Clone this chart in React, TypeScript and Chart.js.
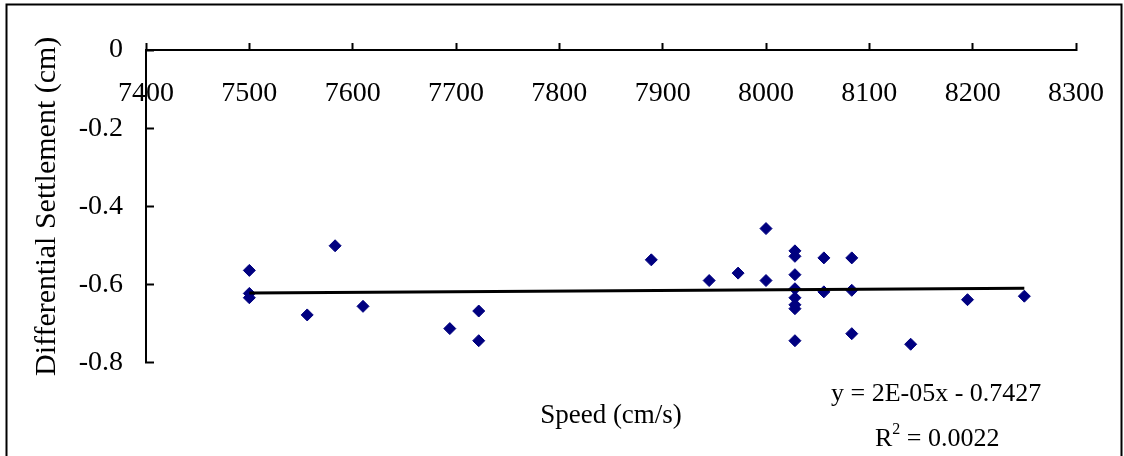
import { useEffect, useRef } from 'react';
import { Chart, registerables } from 'chart.js';

Chart.register(...registerables);

// Speed (cm/s) of each observation
const speeds = [
  7500, 7500, 7500, 7556, 7583, 7610, 7694, 7722, 7722, 7889,
  7945, 7973, 8000, 8000, 8028, 8028, 8028, 8028, 8028, 8028,
  8028, 8028, 8056, 8056, 8083, 8083, 8083, 8140, 8195, 8250,
];
// Differential settlement (cm) of each observation
const settlements = [
  -0.564, -0.623, -0.634, -0.678, -0.501, -0.656, -0.713, -0.668, -0.744, -0.537,
  -0.59, -0.571, -0.457, -0.59, -0.514, -0.528, -0.575, -0.611, -0.634, -0.652,
  -0.662, -0.744, -0.532, -0.619, -0.532, -0.615, -0.726, -0.753, -0.639, -0.63,
];

// Axis ranges / tick steps
const xMin = 7400;
const xMax = 8300;
const xStep = 100;
const yMin = -0.8;
const yMax = 0;
const yStep = 0.2;

// Linear trendline parameters (as fitted in the source)
const trendSlope = 1.6e-5;
const trendIntercept = -0.742;
const equationLabel = 'y = 2E-05x - 0.7427';
const r2Label = '0.0022';

const xTitle = 'Speed (cm/s)';
const yTitle = 'Differential Settlement (cm)';

const FONT = '"Liberation Serif", "Times New Roman", serif';

export default function App() {
  const ref = useRef<HTMLCanvasElement | null>(null);

  useEffect(() => {
    if (!ref.current) return;
    const points = speeds.map((s, i) => ({ x: s, y: settlements[i] }));
    const tx0 = Math.min(...speeds);
    const tx1 = Math.max(...speeds);
    const trend = [tx0, tx1].map((x) => ({ x, y: trendSlope * x + trendIntercept }));

    const framePlugin = {
      id: 'frameAndEquation',
      beforeDraw(chart: any) {
        const { ctx } = chart;
        ctx.save();
        ctx.fillStyle = '#fff';
        ctx.fillRect(0, 0, chart.width, chart.height);
        ctx.strokeStyle = '#000';
        ctx.lineWidth = 2;
        ctx.beginPath();
        ctx.moveTo(6.5, chart.height + 5);
        ctx.lineTo(6.5, 4.5);
        ctx.lineTo(1121.5, 4.5);
        ctx.lineTo(1121.5, chart.height + 5);
        ctx.stroke();
        ctx.restore();
      },
      afterDraw(chart: any) {
        const { ctx, chartArea } = chart;
        ctx.save();
        ctx.fillStyle = '#000';
        ctx.textBaseline = 'alphabetic';
        ctx.textAlign = 'left';
        ctx.font = `26px ${FONT}`;
        ctx.fillText(equationLabel, chartArea.right - 245, chartArea.bottom + 38);
        const rx = chartArea.right - 201;
        const ry = chartArea.bottom + 83;
        ctx.fillText('R', rx, ry);
        const rw = ctx.measureText('R').width;
        ctx.font = `16px ${FONT}`;
        ctx.fillText('2', rx + rw, ry - 12);
        const sw = ctx.measureText('2').width;
        ctx.font = `26px ${FONT}`;
        ctx.fillText(' = ' + r2Label, rx + rw + sw, ry);
        ctx.restore();
      },
    };

    const chart = new Chart(ref.current, {
      type: 'scatter',
      data: {
        datasets: [
          {
            type: 'line',
            label: 'Trend',
            data: trend,
            borderColor: '#000',
            borderWidth: 3,
            pointRadius: 0,
            fill: false,
          } as any,
          {
            label: 'Data',
            data: points,
            pointStyle: 'rectRot',
            pointRadius: 6,
            pointBackgroundColor: '#000080',
            pointBorderColor: '#000080',
            pointBorderWidth: 1,
            showLine: false,
          },
        ],
      },
      options: {
        animation: false,
        responsive: false,
        layout: { padding: { left: 0, top: 50, right: 48, bottom: 24 } },
        plugins: {
          legend: { display: false },
          tooltip: { enabled: false },
          title: {
            display: true,
            position: 'bottom',
            fullSize: false,
            text: xTitle,
            color: '#000',
            font: { family: FONT, size: 27, weight: 'normal' },
            padding: { top: 37, bottom: 0 },
          },
        },
        scales: {
          x: {
            type: 'linear',
            position: { y: 0 } as any,
            min: xMin,
            max: xMax,
            afterFit: (scale: any) => {
              scale.paddingLeft = 0;
              scale.paddingRight = 0;
            },
            ticks: {
              stepSize: xStep,
              color: '#000',
              font: { family: FONT, size: 28 },
              padding: 35,
              maxRotation: 0,
              callback: (v: any) => String(v),
            },
            grid: {
              display: true,
              drawOnChartArea: false,
              drawTicks: true,
              tickLength: -8,
              tickWidth: 2,
              tickColor: '#000',
            },
            border: { display: true, color: '#000', width: 2 },
          },
          y: {
            type: 'linear',
            position: 'left',
            min: yMin,
            max: yMax,
            afterFit: (scale: any) => {
              scale.width = 146;
            },
            ticks: {
              stepSize: yStep,
              color: '#000',
              font: { family: FONT, size: 28 },
              padding: 31,
              callback: (v: any) => String(Math.round(Number(v) * 10) / 10),
            },
            grid: {
              display: true,
              drawOnChartArea: false,
              drawTicks: true,
              tickLength: -8,
              tickWidth: 2,
              tickColor: '#000',
            },
            border: { display: true, color: '#000', width: 2 },
            title: {
              display: true,
              text: yTitle,
              color: '#000',
              font: { family: FONT, size: 30, weight: 'normal' },
              padding: { top: 29, bottom: 0 },
            },
          },
        },
      },
      plugins: [framePlugin],
    });
    return () => chart.destroy();
  }, []);

  return (
    <div style={{ position: 'absolute', left: 0, top: 0, width: 1124, height: 456 }}>
      <canvas ref={ref} width={1124} height={456} style={{ display: 'block' }} />
    </div>
  );
}
